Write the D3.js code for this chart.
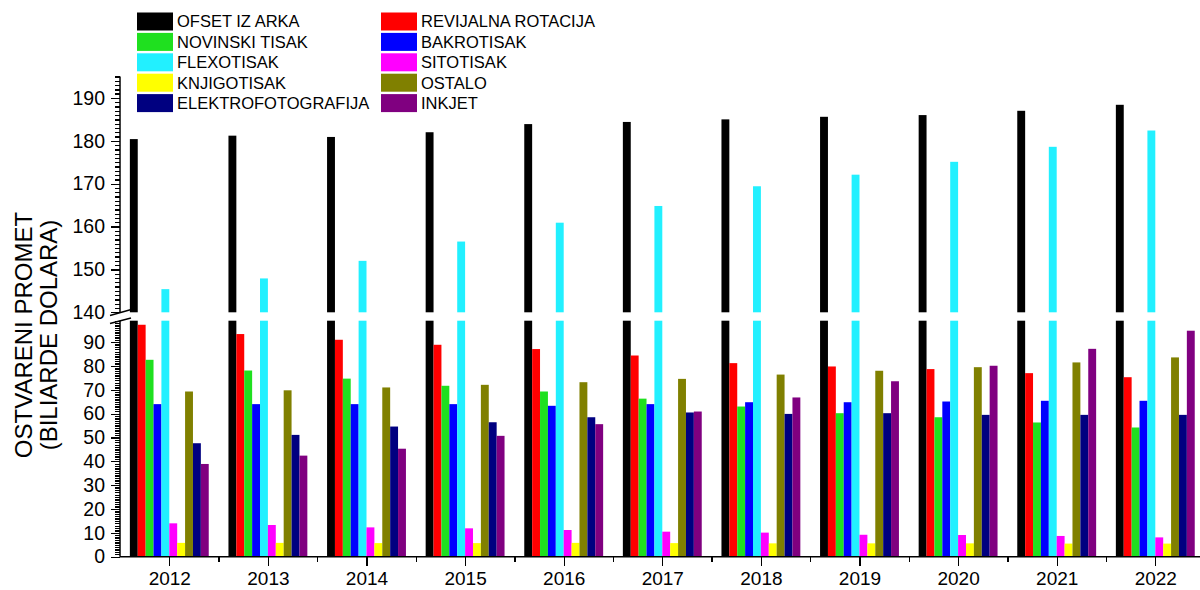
<!DOCTYPE html>
<html>
<head>
<meta charset="utf-8">
<script src="https://cdn.jsdelivr.net/npm/d3@7/dist/d3.min.js"></script>
<style>
body { margin: 0; background: #fff; }
text { font-family: Arial, "Liberation Sans", sans-serif; fill: #000; }
.axis path, .axis line { stroke: #000; stroke-width: 1.3px; shape-rendering: crispEdges; }
.axis .domain { display: none; }
</style>
</head>
<body>
<div id="chart"></div>
<script>
var years = [2012, 2013, 2014, 2015, 2016, 2017, 2018, 2019, 2020, 2021, 2022];

var seriesNames = ["OFSET IZ ARKA", "REVIJALNA ROTACIJA", "NOVINSKI TISAK", "BAKROTISAK",
  "FLEXOTISAK", "SITOTISAK", "KNJIGOTISAK", "OSTALO", "ELEKTROFOTOGRAFIJA", "INKJET"];
var seriesColors = ["#000000", "#ff0000", "#1fe01f", "#0000ff", "#22f0ff",
  "#ff00ff", "#ffff00", "#808000", "#000080", "#800080"];

var ofset      = [180.4, 181.2, 180.9, 182.0, 183.9, 184.4, 185.0, 185.6, 186.0, 187.0, 188.4];
var revijalna  = [97.3, 93.4, 91.0, 88.9, 87.1, 84.4, 81.2, 79.8, 78.7, 77.0, 75.3];
var novinski   = [82.6, 78.1, 74.7, 71.7, 69.3, 66.3, 63.0, 60.2, 58.5, 56.3, 54.2];
var bakrotisak = [64.0, 64.0, 64.0, 64.0, 63.3, 64.0, 64.8, 64.8, 65.1, 65.4, 65.4];
var flexotisak = [145.4, 147.9, 152.0, 156.5, 160.9, 164.8, 169.4, 172.1, 175.1, 178.6, 182.4];
var sitotisak  = [14.0, 13.3, 12.3, 11.9, 11.2, 10.5, 10.1, 9.2, 9.1, 8.7, 8.1];
var knjigotisak = [5.8, 5.8, 5.7, 5.7, 5.8, 5.7, 5.6, 5.6, 5.6, 5.5, 5.5];
var ostalo     = [69.3, 69.8, 71.0, 72.1, 73.2, 74.6, 76.4, 78.0, 79.5, 81.5, 83.6];
var elektro    = [47.6, 51.1, 54.6, 56.4, 58.5, 60.5, 59.9, 60.2, 59.5, 59.5, 59.5];
var inkjet     = [38.9, 42.4, 45.3, 50.7, 55.6, 60.9, 66.8, 73.6, 80.1, 87.2, 94.8];

var seriesValues = [ofset, revijalna, novinski, bakrotisak, flexotisak,
  sitotisak, knjigotisak, ostalo, elektro, inkjet];

var lowTicks = [0, 10, 20, 30, 40, 50, 60, 70, 80, 90];
var highTicks = [140, 150, 160, 170, 180, 190];

// broken y axis: lower part 0-99, upper part 140-195
var lowMax = 99, highMin = 140, highMax = 195;

var width = 1200, height = 590;
var left = 120, right = 1204.6, bottom = 556.7;

var svg = d3.select("#chart").append("svg")
    .attr("width", width)
    .attr("height", height);

var xLin = d3.scaleLinear().domain([2011.5, 2022.5]).range([left, right]);
var x0 = d3.scaleBand().domain(years).range([left, right])
    .paddingInner(0.2).paddingOuter(0.1);
var x1 = d3.scaleBand().domain(d3.range(seriesNames.length)).range([0, x0.bandwidth()]);

var yLow = d3.scaleLinear().domain([0, lowMax]).range([bottom, 320.7]);
var yHigh = d3.scaleLinear().domain([highMin, highMax]).range([312.3, 76.5]);

// bars
var bars = [];
seriesValues.forEach(function(vals, s) {
  vals.forEach(function(v, i) {
    bars.push({s: s, year: years[i], v: v});
  });
});

var g = svg.append("g");
bars.forEach(function(d) {
  var bx = x0(d.year) + x1(d.s);
  var bw = x1.bandwidth();
  var lowTop = yLow(Math.min(d.v, lowMax));
  g.append("rect")
      .attr("x", bx).attr("width", bw)
      .attr("y", lowTop).attr("height", bottom - lowTop)
      .attr("fill", seriesColors[d.s]);
  if (d.v > highMin) {
    g.append("rect")
        .attr("x", bx).attr("width", bw)
        .attr("y", yHigh(d.v)).attr("height", yHigh(highMin) - yHigh(d.v))
        .attr("fill", seriesColors[d.s]);
  }
});

// y axes
function yAxis(scale, ticks, minor) {
  svg.append("g")
      .attr("class", "axis")
      .attr("transform", "translate(" + left + ",0)")
      .call(d3.axisLeft(scale).tickValues(minor).tickSize(5).tickFormat(""));
  var a = svg.append("g")
      .attr("class", "axis")
      .attr("transform", "translate(" + left + ",0)")
      .call(d3.axisLeft(scale).tickValues(ticks).tickSize(9).tickPadding(6));
  a.selectAll("text").style("font-size", "19.5px");
  svg.append("line")
      .attr("x1", left).attr("x2", left)
      .attr("y1", scale.range()[0]).attr("y2", scale.range()[1])
      .attr("stroke", "#000").attr("stroke-width", 1.5);
}
yAxis(yLow, lowTicks, d3.range(0, lowMax + 1, 1));
yAxis(yHigh, highTicks, d3.range(highMin, highMax + 1, 1));

// break marks
[[110, 315.5, 133, 309], [110, 323.5, 131, 318]].forEach(function(p) {
  svg.append("line")
      .attr("x1", p[0]).attr("y1", p[1]).attr("x2", p[2]).attr("y2", p[3])
      .attr("stroke", "#000").attr("stroke-width", 1.3);
});

// x axis
svg.append("g")
    .attr("class", "axis")
    .attr("transform", "translate(0," + bottom + ")")
    .call(d3.axisBottom(xLin).tickValues(years.map(function(y) { return y + 0.5; }))
      .tickSize(5).tickFormat(""));
var xa = svg.append("g")
    .attr("class", "axis")
    .attr("transform", "translate(0," + bottom + ")")
    .call(d3.axisBottom(xLin).tickValues(years).tickSize(9).tickPadding(6)
      .tickFormat(d3.format("d")));
xa.selectAll("text").style("font-size", "19px");
svg.append("line")
    .attr("x1", left).attr("x2", right)
    .attr("y1", bottom).attr("y2", bottom)
    .attr("stroke", "#000").attr("stroke-width", 1.5);

// y title
var title = svg.append("text")
    .attr("transform", "translate(32,335) rotate(-90)")
    .attr("text-anchor", "middle")
    .style("font-size", "24px");
title.append("tspan").attr("x", 0).attr("dy", 0).text("OSTVARENI PROMET");
title.append("tspan").attr("x", 0).attr("dy", 25).text("(BILIARDE DOLARA)");

// legend
var legend = svg.append("g");
seriesNames.forEach(function(name, i) {
  var col = i % 2, row = Math.floor(i / 2);
  var lx = col === 0 ? 137 : 381;
  var ly = 21.5 + row * 20.4;
  legend.append("rect")
      .attr("x", lx).attr("y", ly - 9)
      .attr("width", 36).attr("height", 18)
      .attr("fill", seriesColors[i]);
  legend.append("text")
      .attr("x", lx + 40).attr("y", ly)
      .attr("dy", "0.36em")
      .style("font-size", "16.5px")
      .text(name);
});
</script>
</body>
</html>
